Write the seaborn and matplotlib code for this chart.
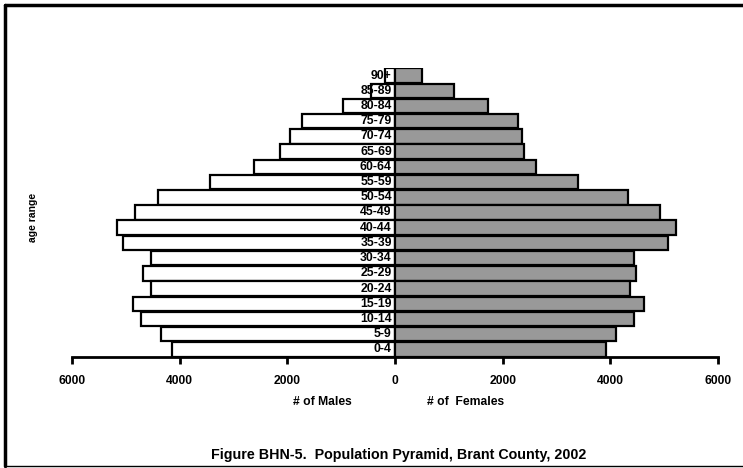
import numpy as np
import pandas as pd
import matplotlib
matplotlib.use("Agg")
import matplotlib.pyplot as plt
from matplotlib.lines import Line2D
import seaborn as sns

# Data (top row first)
ages = ["90+", "85-89", "80-84", "75-79", "70-74", "65-69", "60-64", "55-59",
        "50-54", "45-49", "40-44", "35-39", "30-34", "25-29", "20-24",
        "15-19", "10-14", "5-9", "0-4"]
males = [180, 450, 970, 1720, 1945, 2130, 2620, 3440,
         4410, 4825, 5160, 5050, 4525, 4675, 4525,
         4860, 4710, 4340, 4150]
females = [500, 1100, 1725, 2290, 2360, 2395, 2620, 3400,
           4330, 4930, 5225, 5075, 4445, 4480, 4370,
           4630, 4445, 4110, 3925]

df = pd.DataFrame({"age": ages, "males": males, "females": females})
df["males_neg"] = -df["males"]

sns.set_style("white")
plt.rcParams["font.family"] = ["Liberation Sans", "DejaVu Sans"]
plt.rcParams["text.color"] = "black"
plt.rcParams["xtick.color"] = "black"
plt.rcParams["xtick.labelcolor"] = "black"

fig = plt.figure(figsize=(7.43, 4.68), dpi=100)
ax = fig.add_axes([72 / 743, 1 - 357 / 468, 646 / 743, 289 / 468])

sns.barplot(data=df, x="males_neg", y="age", order=ages, orient="h",
            color="white", saturation=1, width=0.95,
            edgecolor="black", linewidth=1.6, ax=ax)
sns.barplot(data=df, x="females", y="age", order=ages, orient="h",
            color="#999999", saturation=1, width=0.95,
            edgecolor="black", linewidth=1.6, ax=ax)

# Age labels just left of zero
for i, a in enumerate(ages):
    ax.text(-60, i, a, ha="right", va="center", fontsize=8.8,
            fontweight="bold", color="black")

ax.set_xlim(-6000, 6000)
ax.set_ylim(18.5, -0.5)
ax.set_xticks(np.arange(-6000, 6001, 2000))
ax.set_xticklabels([str(abs(v)) for v in range(-6000, 6001, 2000)],
                   fontsize=8.7, fontweight="bold", color="black")
ax.set_yticks([])
ax.set_xlabel("")
ax.set_ylabel("")
ax.tick_params(axis="x", direction="out", length=5, width=2, pad=8,
               bottom=True, color="black")
for s in ["top", "right", "left"]:
    ax.spines[s].set_visible(False)
ax.spines["bottom"].set_linewidth(2)
ax.spines["bottom"].set_color("black")

fig.text(33 / 743, 1 - 217 / 468, "age range", rotation=90, ha="center",
         va="center", fontsize=7.5, fontweight="bold")
fig.text(322 / 743, 1 - 402 / 468, "# of Males", ha="center", va="center",
         fontsize=8.7, fontweight="bold")
fig.text(466 / 743, 1 - 402 / 468, "# of  Females", ha="center", va="center",
         fontsize=8.7, fontweight="bold")
fig.text(399 / 743, 1 - 455 / 468,
         "Figure BHN-5.  Population Pyramid, Brant County, 2002",
         ha="center", va="center", fontsize=10.3, fontweight="bold")

# Outer frame
x0, y0, y1 = 5 / 743, 1 - 5 / 468, 1 - 466 / 468
fig.add_artist(Line2D([x0, x0], [y1, y0], transform=fig.transFigure,
                      color="black", lw=2.5))
fig.add_artist(Line2D([x0, 1], [y0, y0], transform=fig.transFigure,
                      color="black", lw=2.5))
fig.add_artist(Line2D([x0, 1], [y1, y1], transform=fig.transFigure,
                      color="black", lw=1))

fig.savefig("out.png", dpi=100)
